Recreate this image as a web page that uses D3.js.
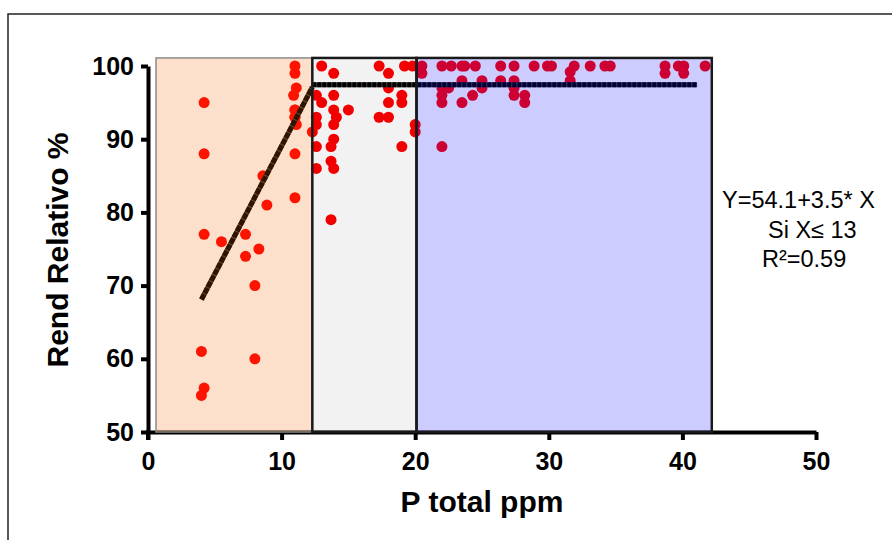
<!DOCTYPE html>
<html>
<head>
<meta charset="utf-8">
<script src="https://cdn.jsdelivr.net/npm/d3@7"></script>
<style>
  body { margin: 0; background: #fff; }
  svg { display: block; font-family: "Liberation Sans", Arial, sans-serif; }
</style>
</head>
<body>
<section></section>
<script>
// P total (ppm) and relative yield (%)
const pTotal = [
  4.2, 4.2, 4.2, 4.0, 4.2, 4.0, 5.5, 7.3, 7.3, 8.3, 8.0, 8.0, 8.6, 8.9,
  11.0, 11.0, 11.1, 10.9, 11.0, 11.0, 11.1, 11.0, 11.0, 11.0, 11.0,
  12.3, 13.0, 13.9, 12.6, 13.9, 13.0, 13.9, 15.0, 14.1, 13.9, 12.6, 12.6, 13.9, 12.6,
  13.7, 13.7, 13.9, 12.6, 13.7, 17.3, 18.0, 19.2, 19.8, 18.0, 18.0, 19.0, 19.0,
  17.3, 18.0, 19.0, 20.0, 20.0,
  20.5, 20.5, 22.0, 22.7, 23.5, 23.7, 24.5, 26.4, 27.4, 28.9, 29.9, 30.2, 31.9,
  33.1, 34.2, 34.6, 38.7, 39.7, 40.1, 41.7, 31.6, 38.7, 40.1, 31.6,
  23.5, 25.0, 26.4, 27.4, 22.0, 22.5, 25.0, 27.4, 22.0, 24.3, 27.4, 28.2,
  22.0, 23.5, 28.2, 22.0
];
const rendRel = [
  95, 88, 77, 61, 56, 55, 76, 77, 74, 75, 70, 60, 85, 81,
  100, 99, 97, 96, 94, 93, 92, 88, 82, 94, 93,
  91, 100, 99, 96, 96, 95, 94, 94, 93, 92, 93, 92, 90, 89,
  89, 87, 86, 86, 79, 100, 99, 100, 100, 97, 95, 96, 95,
  93, 93, 89, 92, 91,
  100, 99, 100, 100, 100, 100, 100, 100, 100, 100, 100, 100, 100,
  100, 100, 100, 100, 100, 100, 100, 99.2, 99, 99, 98,
  98, 98, 98, 98, 97, 97, 97, 97, 96, 96, 96, 96,
  95, 95, 95, 89
];

// zones (P ppm) and their tints
const zoneFrom = [0.6, 12.3, 20.1];
const zoneTo = [12.3, 20.1, 42.2];
const zoneFill = ['rgba(245,100,0,0.2)', 'rgba(0,0,0,0.05)', 'rgba(0,0,255,0.2)'];
const zoneStroke = ['#8a8a8a', '#1a1a1a', '#1a1a1a'];
const zoneTop = 101.1;

// fitted model: linear up to the break, plateau after
const lineX = [4.0, 12.3];
const lineY = [68.1, 97.1];
const plateauX = [12.3, 41.1];
const plateauY = 97.45;

const xTicks = [0, 10, 20, 30, 40, 50];
const yTicks = [50, 60, 70, 80, 90, 100];

const eqLines = ['Y=54.1+3.5* X', 'Si X\u2264 13', 'R\u00b2=0.59'];

const svg = d3.select('section')
  .append('svg')
  .attr('width', 892)
  .attr('height', 540);

// outer frame
svg.append('rect')
  .attr('x', 8).attr('y', 14)
  .attr('width', 900).attr('height', 540)
  .attr('fill', 'none')
  .attr('stroke', '#222')
  .attr('stroke-width', 1.5);

const xscale = d3.scaleLinear().domain([0, 50]).range([148, 816]);
const yscale = d3.scaleLinear().domain([50, 100]).range([432, 66]);

const xaxis = d3.axisBottom(xscale).tickValues(xTicks).tickSize(8).tickSizeOuter(0).tickPadding(12);
const yaxis = d3.axisLeft(yscale).tickValues(yTicks).tickSize(7).tickSizeOuter(0).tickPadding(7);

const gx = svg.append('g')
  .attr('transform', 'translate(0, 432)')
  .call(xaxis);
const gy = svg.append('g')
  .attr('transform', 'translate(148, 0)')
  .call(yaxis);

[gx, gy].forEach(g => {
  g.select('.domain').attr('stroke', '#000').attr('stroke-width', 4);
  g.selectAll('.tick line').attr('stroke', '#000').attr('stroke-width', 4);
  g.selectAll('.tick text')
    .attr('fill', '#000')
    .style('font-size', '25px')
    .style('font-weight', 'bold')
    .style('font-family', '"Liberation Sans", Arial, sans-serif');
});
// y axis runs past zero so the ticks cross
gy.append('line')
  .attr('x1', 0).attr('x2', 0)
  .attr('y1', 430).attr('y2', 440)
  .attr('stroke', '#000').attr('stroke-width', 4);

const pts = pTotal.map((p, i) => ({ p: p, r: rendRel[i] }));

svg.selectAll('.point')
  .data(pts)
  .enter()
  .append('circle')
  .attr('class', 'point')
  .attr('r', 5.5)
  .attr('cx', d => xscale(d.p))
  .attr('cy', d => yscale(d.r))
  .attr('fill', '#ff0000');

// fit lines: grey base with a dense black dash over it
function fitLine(x1, y1, x2, y2, dash) {
  svg.append('line')
    .attr('x1', xscale(x1)).attr('y1', yscale(y1))
    .attr('x2', xscale(x2)).attr('y2', yscale(y2))
    .attr('stroke', '#444')
    .attr('stroke-width', 5);
  svg.append('line')
    .attr('x1', xscale(x1)).attr('y1', yscale(y1))
    .attr('x2', xscale(x2)).attr('y2', yscale(y2))
    .attr('stroke', '#000')
    .attr('stroke-width', 5)
    .attr('stroke-dasharray', dash);
}
fitLine(lineX[0], lineY[0], lineX[1], lineY[1], '6,1');
fitLine(plateauX[0], plateauY, plateauX[1], plateauY, '4,1');

// tinted zones drawn over the marks
svg.selectAll('.zone')
  .data(zoneFrom)
  .enter()
  .append('rect')
  .attr('class', 'zone')
  .attr('x', d => xscale(d))
  .attr('y', yscale(zoneTop))
  .attr('width', (d, i) => xscale(zoneTo[i]) - xscale(d))
  .attr('height', yscale(50) - yscale(zoneTop))
  .attr('fill', (d, i) => zoneFill[i])
  .attr('stroke', (d, i) => zoneStroke[i])
  .attr('stroke-width', (d, i) => i === 0 ? 1.5 : 2.5);

svg.append('text')
  .attr('x', 482)
  .attr('y', 512)
  .attr('text-anchor', 'middle')
  .style('font-size', '30px')
  .style('font-weight', 'bold')
  .text('P total ppm');

svg.append('text')
  .attr('transform', 'translate(68, 250) rotate(-90)')
  .attr('text-anchor', 'middle')
  .style('font-size', '30px')
  .style('font-weight', 'bold')
  .text('Rend Relativo %');

const eqX = [722, 768, 762];
svg.selectAll('.eq')
  .data(eqLines)
  .enter()
  .append('text')
  .attr('class', 'eq')
  .attr('x', (d, i) => eqX[i])
  .attr('y', (d, i) => 208 + i * 29.5)
  .style('font-size', '23.5px')
  .attr('fill', '#000')
  .text(d => d);
</script>
</body>
</html>
